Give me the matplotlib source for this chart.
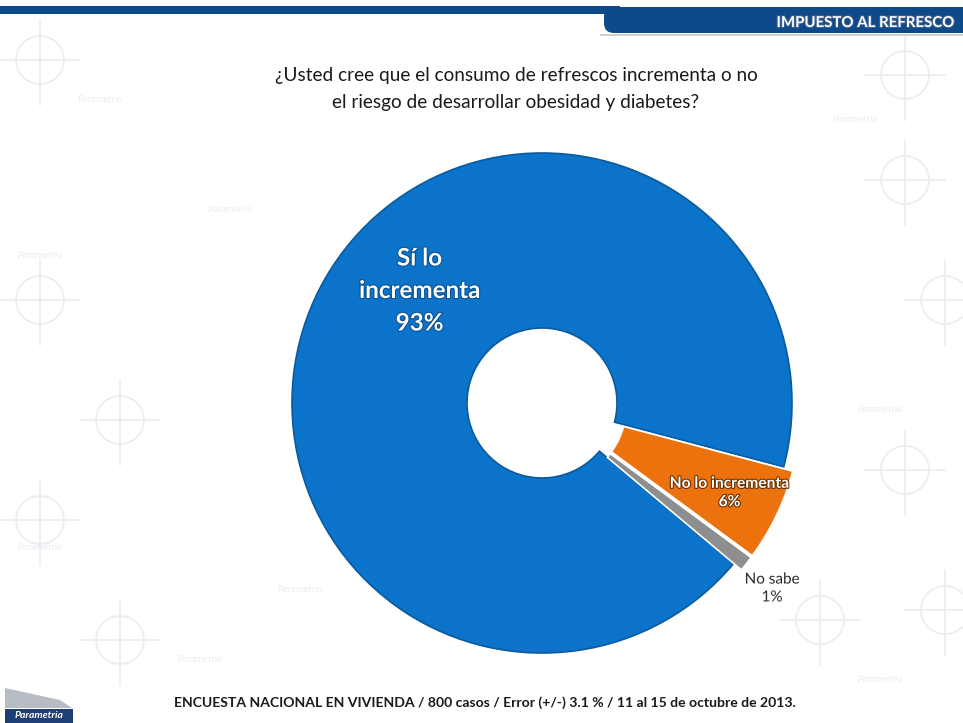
import matplotlib
matplotlib.use("Agg")
import matplotlib.pyplot as plt
import matplotlib.patheffects as pe
from matplotlib.patches import Rectangle, FancyBboxPatch, Polygon, Circle

# ---- data ----
categories = ["Sí lo\nincrementa", "No lo incrementa", "No sabe"]
values = [93, 6, 1]
value_labels = ["93%", "6%", "1%"]
title_text = "¿Usted cree que el consumo de refrescos incrementa o no\nel riesgo de desarrollar obesidad y diabetes?"
header_text = "IMPUESTO AL REFRESCO"
footer_text = "ENCUESTA NACIONAL EN VIVIENDA / 800 casos / Error (+/-) 3.1 % / 11 al 15 de octubre de 2013."
logo_text = "Parametria"

colors = ["#0B73CA", "#EC720E", "#8E8E8E"]

W, H = 963, 723
fig = plt.figure(figsize=(W / 100, H / 100), dpi=100)
fig.patch.set_facecolor("white")

# background / decoration axes in pixel coordinates
bg = fig.add_axes([0, 0, 1, 1])
bg.set_xlim(0, W)
bg.set_ylim(H, 0)
bg.axis("off")

# faint watermark motifs (behind everything)
wm = "#E9EDF2"
motif_centers = [(40, 60), (40, 300), (40, 520), (905, 75), (905, 180), (905, 470),
                 (945, 300), (945, 610), (120, 420), (120, 640), (820, 620)]
for (mx, my) in motif_centers:
    bg.add_patch(Circle((mx, my), 24, fill=False, ec=wm, lw=1.2, zorder=0))
    bg.plot([mx - 40, mx + 40], [my, my], color=wm, lw=1.2, zorder=0)
    bg.plot([mx, mx], [my - 40, my + 45], color=wm, lw=1.2, zorder=0)
for (tx, ty) in [(100, 100), (40, 255), (40, 548), (855, 120), (880, 410),
                 (880, 680), (230, 210), (300, 590), (680, 300), (200, 660)]:
    bg.text(tx, ty, "Parametria", color=wm, fontsize=7, fontstyle="italic",
            family=["Lato", "DejaVu Sans"], ha="center", va="center", zorder=0)

# header strip and band
bg.add_patch(Rectangle((0, 6), 620, 8, color="#0E4A8A", lw=0, zorder=3))
bg.add_patch(FancyBboxPatch((604, 7), W - 592, 26, boxstyle="round,pad=0,rounding_size=10",
                            color="#0E4A8A", lw=0, zorder=3))
bg.add_patch(Rectangle((600, 34), W - 600, 2, color="#D0D0D0", lw=0, zorder=3))
bg.text(955, 27, header_text, color="white", fontsize=10.8, fontweight="bold",
        family=["Lato", "DejaVu Sans"], ha="right", va="baseline", zorder=4,
        path_effects=[pe.withStroke(linewidth=1.5, foreground="#3B5F8F")])

# title
bg.text(516, 89, title_text, ha="center", va="center", fontsize=13.7,
        family=["Lato", "DejaVu Sans"], color="#1a1a1a", linespacing=1.7, zorder=4)

# footer
bg.text(485, 703, footer_text, ha="center", va="center", fontsize=10.1,
        fontweight="bold", family=["Lato", "DejaVu Sans"], color="#1a1a1a", zorder=4)

# logo
bg.add_patch(Polygon([(5, 688), (60, 700), (72, 708), (5, 708)], closed=True,
                     color="#B8BCC4", lw=0, zorder=3))
bg.add_patch(Rectangle((5, 709), 68, 14, color="#1F3E78", lw=0, zorder=3))
bg.text(39, 716, logo_text, color="white", fontsize=7.5, fontstyle="italic",
        fontweight="bold", family=["Lato", "DejaVu Sans"], ha="center", va="center", zorder=4)

# ---- donut ----
cx, cy, R = 542, 403, 250
lim = 1.2
side = 2 * lim * R
ax = fig.add_axes([(cx - side / 2) / W, (H - cy - side / 2) / H, side / W, side / H])
ax.axis("off")
ax.patch.set_alpha(0)

wedges, _ = ax.pie(values, colors=colors, startangle=320, counterclock=False,
                   explode=[0, 0.04, 0.04], radius=1.0,
                   wedgeprops=dict(width=0.70, linewidth=1.2, edgecolor="white"))
wedges[0].set_edgecolor("#0A5A9E")
wedges[0].set_linewidth(1.2)
ax.set_xlim(-lim, lim)
ax.set_ylim(-lim, lim)

# labels
ax.text(-0.49, 0.45, categories[0] + "\n" + value_labels[0], ha="center", va="center",
        color="white", fontsize=17.4, fontweight="bold", family=["Lato", "DejaVu Sans"],
        linespacing=1.5,
        path_effects=[pe.withStroke(linewidth=1.5, foreground="#0A4F8F")])
ax.text(0.75, -0.36, categories[1] + "\n" + value_labels[1], ha="center", va="center",
        color="white", fontsize=11.2, fontweight="bold", family=["Lato", "DejaVu Sans"],
        linespacing=1.4,
        path_effects=[pe.withStroke(linewidth=1.6, foreground="#6A3300")])
ax.text(0.92, -0.742, categories[2] + "\n" + value_labels[2], ha="center", va="center",
        color="#2a2a2a", fontsize=11, family=["Lato", "DejaVu Sans"],
        linespacing=1.35,
        path_effects=[pe.withStroke(linewidth=2, foreground="white")])

fig.savefig("out.png", dpi=100)
